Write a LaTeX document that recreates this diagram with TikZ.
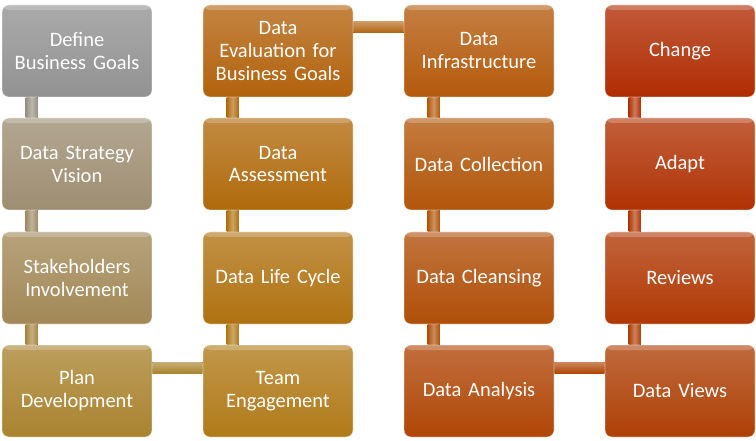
\documentclass[tikz,border=0pt]{standalone}
\usepackage{fontspec}
\setmainfont{Carlito}
\usepackage{tikz}
\usetikzlibrary{shapes,arrows,positioning,backgrounds}

\definecolor{cA}{HTML}{929292}
\definecolor{cB}{HTML}{9E8E72}
\definecolor{cC}{HTML}{A28856}
\definecolor{cD}{HTML}{A9832F}
\definecolor{cE}{HTML}{B07A18}
\definecolor{cF}{HTML}{B07210}
\definecolor{cG}{HTML}{B06A0C}
\definecolor{cH}{HTML}{B2620C}
\definecolor{cI}{HTML}{B45A0C}
\definecolor{cJ}{HTML}{B2560A}
\definecolor{cK}{HTML}{B04E08}
\definecolor{cL}{HTML}{B04606}
\definecolor{cM}{HTML}{AE4006}
\definecolor{cN}{HTML}{B03804}
\definecolor{cO}{HTML}{B03204}
\definecolor{cP}{HTML}{B02C02}

\tikzstyle{stepbox} = [rectangle, rounded corners=7pt, minimum width=150pt, minimum height=92pt,
  text width=140pt, align=center, text=white, font=\fontsize{20.5}{23}\selectfont,
  draw=white, draw opacity=0.45, line width=0.8pt,
  path picture={\fill[white, opacity=0.22] (path picture bounding box.north west) rectangle ([yshift=-5pt]path picture bounding box.north east);}]
\tikzset{tone/.style={top color=#1!78!white, bottom color=#1},
  bar/.style={left color=#1, right color=#1, middle color=#1!65!white},
  hbar/.style={top color=#1!65!white, bottom color=#1}}

\begin{document}
\begin{tikzpicture}[x=1pt, y=-1pt]
  \useasboundingbox (0,0) rectangle (756,441);

  % column one
  \node [stepbox, tone=cA] (goals) at (77, 51) {Define\\Business Goals};
  \node [stepbox, tone=cB] (vision) at (77, 164) {Data Strategy\\Vision};
  \node [stepbox, tone=cC] (stake) at (77, 278) {Stakeholders\\Involvement};
  \node [stepbox, tone=cD] (plan) at (77, 391) {Plan\\Development};

  % column two
  \node [stepbox, tone=cE] (team) at (278, 391) {Team\\Engagement};
  \node [stepbox, tone=cF] (life) at (278, 278) {Data Life Cycle};
  \node [stepbox, tone=cG] (assess) at (278, 164) {Data\\Assessment};
  \node [stepbox, tone=cH] (eval) at (278, 51) {Data\\Evaluation for\\Business Goals};

  % column three
  \node [stepbox, tone=cI] (infra) at (479, 51) {Data\\Infrastructure};
  \node [stepbox, tone=cJ] (collect) at (479, 164) {Data Collection};
  \node [stepbox, tone=cK] (cleanse) at (479, 278) {Data Cleansing};
  \node [stepbox, tone=cL] (analysis) at (479, 391) {Data Analysis};

  % column four
  \node [stepbox, tone=cM] (views) at (680, 391) {Data Views};
  \node [stepbox, tone=cN] (reviews) at (680, 278) {Reviews};
  \node [stepbox, tone=cO] (adapt) at (680, 164) {Adapt};
  \node [stepbox, tone=cP] (change) at (680, 51) {Change};

  % connectors behind the boxes
  \begin{scope}[on background layer]
    \fill [bar=cA!50!cB] ([xshift=24pt]goals.south west) rectangle ([xshift=36pt]vision.north west);
    \fill [bar=cB!50!cC] ([xshift=24pt]vision.south west) rectangle ([xshift=36pt]stake.north west);
    \fill [bar=cC!50!cD] ([xshift=24pt]stake.south west) rectangle ([xshift=36pt]plan.north west);
    \fill [hbar=cD] ([yshift=18pt]plan.east) rectangle ([yshift=29pt]team.west);
    \fill [bar=cE] ([xshift=24pt]team.north west) rectangle ([xshift=36pt]life.south west);
    \fill [bar=cF] ([xshift=24pt]life.north west) rectangle ([xshift=36pt]assess.south west);
    \fill [bar=cG] ([xshift=24pt]assess.north west) rectangle ([xshift=36pt]eval.south west);
    \fill [hbar=cH] ([yshift=18pt]eval.east) rectangle ([yshift=29pt]infra.west);
    \fill [bar=cI] ([xshift=24pt]infra.south west) rectangle ([xshift=36pt]collect.north west);
    \fill [bar=cJ] ([xshift=24pt]collect.south west) rectangle ([xshift=36pt]cleanse.north west);
    \fill [bar=cK] ([xshift=24pt]cleanse.south west) rectangle ([xshift=36pt]analysis.north west);
    \fill [hbar=cL] ([yshift=18pt]analysis.east) rectangle ([yshift=29pt]views.west);
    \fill [bar=cM] ([xshift=24pt]views.north west) rectangle ([xshift=36pt]reviews.south west);
    \fill [bar=cN] ([xshift=24pt]reviews.north west) rectangle ([xshift=36pt]adapt.south west);
    \fill [bar=cO] ([xshift=24pt]adapt.north west) rectangle ([xshift=36pt]change.south west);
  \end{scope}
\end{tikzpicture}
\end{document}
